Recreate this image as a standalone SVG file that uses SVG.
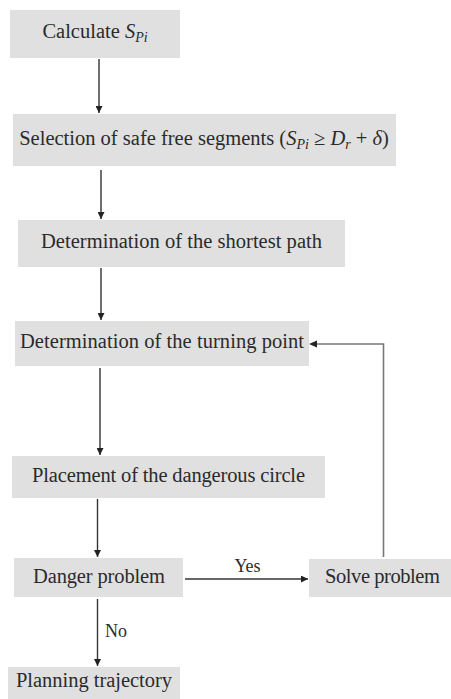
<svg xmlns="http://www.w3.org/2000/svg" width="451" height="699" viewBox="0 0 451 699">
<defs>
<marker id="ah" viewBox="0 0 10 10" refX="10" refY="5" markerWidth="7" markerHeight="7" markerUnits="userSpaceOnUse" orient="auto">
<path d="M0,0 L10,5 L0,10 z" fill="#222"/>
</marker>
<style>
.box{fill:#e0e0e0;}
.t{font-family:"Liberation Serif","Times New Roman",serif;font-size:20.5px;fill:#2b2b2b;text-anchor:middle;}
.l{font-family:"Liberation Serif","Times New Roman",serif;font-size:18px;fill:#2b2b2b;}
.i{font-style:italic;}
.c{stroke:#333;stroke-width:1.4;fill:none;marker-end:url(#ah);}
.g{stroke:#777;stroke-width:1.6;fill:none;}
</style>
</defs>
<rect width="451" height="699" fill="#fff"/>
<g id="n1"><rect class="box" x="10" y="10" width="170" height="48"/><text class="t" x="95" y="38">Calculate <tspan class="i">S</tspan><tspan class="i" font-size="14" dy="4">Pi</tspan></text></g>
<g id="n2"><rect class="box" x="13" y="114" width="383" height="52"/><text class="t" x="204" y="145">Selection of safe free segments (<tspan class="i">S</tspan><tspan class="i" font-size="14" dy="4">Pi</tspan><tspan dy="-4"> ≥ </tspan><tspan class="i">D</tspan><tspan class="i" font-size="14" dy="4">r</tspan><tspan dy="-4"> + </tspan><tspan class="i">δ</tspan>)</text></g>
<g id="n3"><rect class="box" x="18" y="220" width="327" height="47"/><text class="t" x="181.5" y="248" textLength="281">Determination of the shortest path</text></g>
<g id="n4"><rect class="box" x="15" y="321" width="294" height="45"/><text class="t" x="162" y="348" textLength="284">Determination of the turning point</text></g>
<g id="n5"><rect class="box" x="12" y="456" width="313" height="42"/><text class="t" x="168.5" y="482" textLength="273">Placement of the dangerous circle</text></g>
<g id="n6"><rect class="box" x="14" y="558" width="169" height="39"/><text class="t" x="99" y="583" textLength="132">Danger problem</text></g>
<g id="n7"><rect class="box" x="309" y="559" width="142" height="38"/><text class="t" x="382.5" y="583" textLength="115">Solve problem</text></g>
<g id="n8"><rect class="box" x="8" y="667" width="172" height="32"/><text class="t" x="94" y="687" textLength="156">Planning trajectory</text></g>
<g id="connectors">
<line class="c" x1="99" y1="59" x2="99" y2="113"/>
<line class="c" x1="101" y1="170" x2="101" y2="219"/>
<line class="c" x1="101" y1="268" x2="101" y2="320"/>
<line class="c" x1="100" y1="368" x2="100" y2="455"/>
<line class="c" x1="97.5" y1="499" x2="97.5" y2="557"/>
<line class="c" x1="185" y1="579" x2="308" y2="579"/>
<line class="c" x1="97.5" y1="599" x2="97.5" y2="666"/>
<path class="g" d="M383.5,557 V344 H316"/>
<path d="M309,344 L317,340.5 L317,347.5 z" fill="#222"/>
<text class="l" x="247.5" y="572" text-anchor="middle">Yes</text>
<text class="l" x="105" y="637">No</text>
</g>
</svg>
